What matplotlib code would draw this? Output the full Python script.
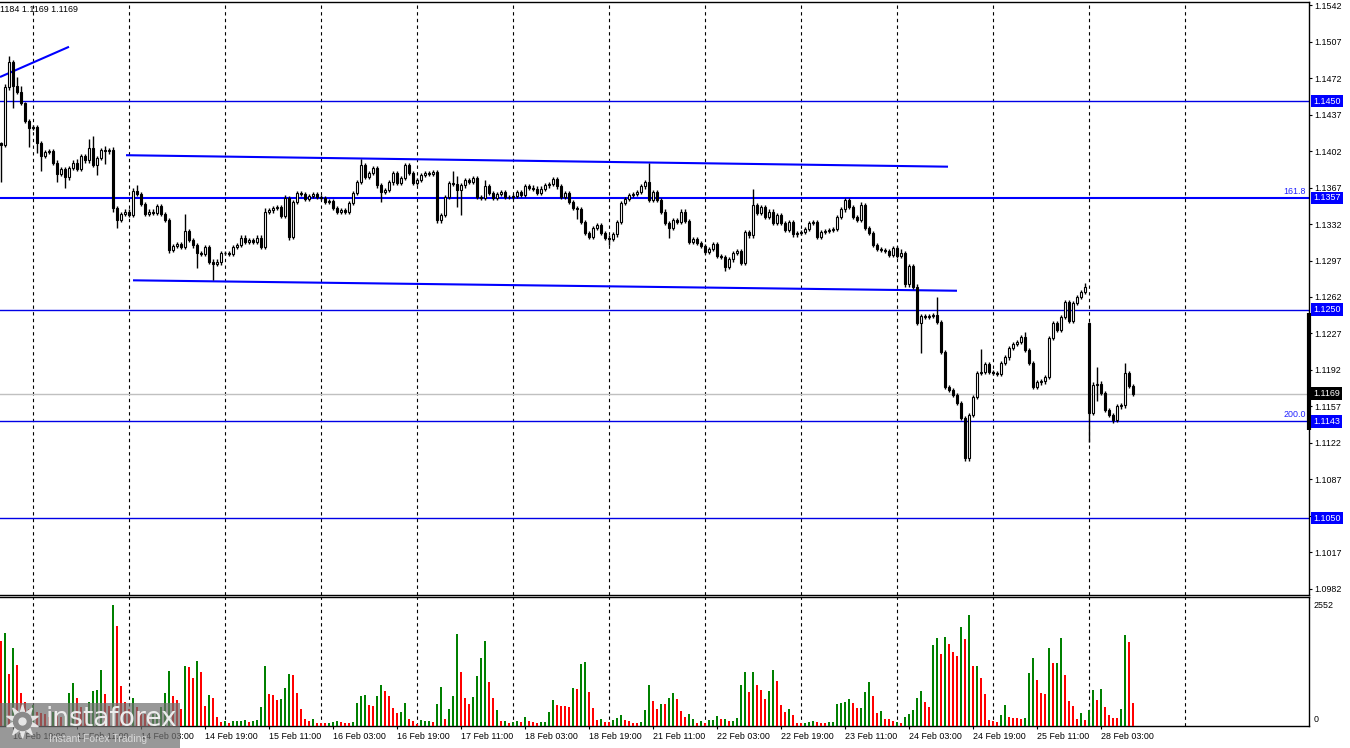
import matplotlib
matplotlib.use("Agg")
import matplotlib.pyplot as plt
import numpy as np
from matplotlib.patches import Rectangle
from matplotlib.lines import Line2D
import matplotlib.transforms as mtrans

# ---------------- data (EURUSD H1) ----------------
first_open = 1.1410
gap_index = 272          # Monday open after weekend gap
gap_open = 1.1237

closes = [
    1.1408, 1.1463, 1.1487, 1.1464, 1.1459, 1.1448, 1.1431, 1.1424, 1.1425, 1.1410,
    1.1397, 1.1401, 1.1402, 1.1391, 1.1380, 1.1385, 1.1377, 1.1386, 1.1391, 1.1385,
    1.1397, 1.1393, 1.1405, 1.1389, 1.1395, 1.1403, 1.1402, 1.1403, 1.1347, 1.1336,
    1.1342, 1.1344, 1.1341, 1.1364, 1.1361, 1.1351, 1.1342, 1.1344, 1.1343, 1.1349,
    1.1342, 1.1336, 1.1307, 1.1311, 1.1313, 1.1310, 1.1325, 1.1317, 1.1312, 1.1304,
    1.1303, 1.1310, 1.1296, 1.1294, 1.1296, 1.1304, 1.1304, 1.1303, 1.1310, 1.1312,
    1.1319, 1.1315, 1.1317, 1.1315, 1.1319, 1.1310, 1.1344, 1.1345, 1.1347, 1.1348,
    1.1340, 1.1357, 1.1320, 1.1353, 1.1362, 1.1361, 1.1356, 1.1359, 1.1361, 1.1358,
    1.1357, 1.1353, 1.1354, 1.1347, 1.1344, 1.1345, 1.1344, 1.1352, 1.1362, 1.1372,
    1.1389, 1.1377, 1.1381, 1.1386, 1.1369, 1.1363, 1.1365, 1.1372, 1.1381, 1.1371,
    1.1376, 1.1389, 1.1381, 1.1371, 1.1374, 1.1379, 1.1381, 1.1380, 1.1382, 1.1336,
    1.1341, 1.1358, 1.1371, 1.1370, 1.1365, 1.1369, 1.1374, 1.1372, 1.1376, 1.1358,
    1.1357, 1.1368, 1.1362, 1.1357, 1.1361, 1.1363, 1.1358, 1.1358, 1.1359, 1.1363,
    1.1360, 1.1368, 1.1367, 1.1366, 1.1362, 1.1366, 1.1369, 1.1370, 1.1375, 1.1368,
    1.1358, 1.1362, 1.1353, 1.1347, 1.1346, 1.1334, 1.1323, 1.1320, 1.1328, 1.1331,
    1.1323, 1.1319, 1.1318, 1.1322, 1.1334, 1.1352, 1.1356, 1.1360, 1.1361, 1.1363,
    1.1368, 1.1372, 1.1355, 1.1363, 1.1355, 1.1344, 1.1333, 1.1328, 1.1336, 1.1334,
    1.1344, 1.1335, 1.1315, 1.1318, 1.1314, 1.1311, 1.1305, 1.1308, 1.1313, 1.1301,
    1.1300, 1.1291, 1.1298, 1.1304, 1.1306, 1.1295, 1.1324, 1.1321, 1.1350, 1.1343,
    1.1348, 1.1339, 1.1344, 1.1333, 1.1341, 1.1333, 1.1326, 1.1334, 1.1322, 1.1323,
    1.1324, 1.1327, 1.1333, 1.1334, 1.1320, 1.1324, 1.1325, 1.1326, 1.1327, 1.1339,
    1.1346, 1.1355, 1.1348, 1.1339, 1.1336, 1.1350, 1.1328, 1.1323, 1.1312, 1.1308,
    1.1307, 1.1306, 1.1302, 1.1309, 1.1301, 1.1304, 1.1274, 1.1292, 1.1272, 1.1237,
    1.1244, 1.1243, 1.1244, 1.1245, 1.1238, 1.1209, 1.1176, 1.1173, 1.1168, 1.1160,
    1.1146, 1.1108, 1.1149, 1.1166, 1.1189, 1.1190, 1.1198, 1.1190, 1.1189, 1.1188,
    1.1199, 1.1204, 1.1213, 1.1217, 1.1219, 1.1224, 1.1211, 1.1199, 1.1176, 1.1180,
    1.1181, 1.1185, 1.1223, 1.1237, 1.1230, 1.1243, 1.1257, 1.1239, 1.1256, 1.1262,
    1.1267, 1.1272, 1.1151, 1.1178, 1.1179, 1.1170, 1.1154, 1.1149, 1.1144, 1.1157,
    1.1158, 1.1189, 1.1177, 1.1169,
]

# wick lengths in pips beyond the body
upper_wick = [
    1, 3, 6, 2, 9, 5, 1, 2, 2, 2,   2, 2, 2, 2, 2, 2, 2, 2, 2, 3,
    2, 2, 9, 11, 2, 2, 4, 2, 3, 2,  2, 2, 2, 3, 5, 2, 2, 2, 2, 2,
    2, 2, 2, 2, 2, 2, 17, 2, 2, 2,  2, 2, 2, 2, 2, 2, 2, 2, 2, 2,
    2, 2, 2, 2, 2, 2, 3, 2, 2, 2,   2, 3, 2, 2, 2, 2, 2, 2, 2, 2,
    2, 2, 2, 2, 2, 2, 2, 2, 2, 2,   5, 2, 2, 2, 2, 2, 2, 2, 2, 2,
    2, 2, 2, 2, 2, 2, 2, 2, 2, 2,   2, 2, 2, 12, 8, 2, 2, 2, 2, 2,
    2, 6, 2, 2, 2, 2, 2, 2, 2, 2,   2, 2, 2, 2, 2, 2, 2, 2, 2, 2,
    2, 2, 2, 2, 2, 2, 2, 2, 2, 2,   2, 2, 2, 2, 2, 2, 2, 2, 2, 2,
    2, 2, 19, 2, 2, 2, 2, 2, 2, 2,  2, 2, 2, 2, 2, 2, 2, 2, 2, 2,
    2, 2, 2, 2, 2, 2, 2, 2, 16, 2,  2, 2, 2, 2, 2, 2, 2, 2, 2, 2,
    2, 2, 2, 2, 2, 2, 2, 2, 2, 2,   2, 2, 2, 2, 2, 3, 2, 2, 2, 2,
    2, 2, 2, 2, 2, 4, 2, 2, 2, 2,   2, 2, 2, 2, 17, 2, 2, 2, 2, 2,
    2, 2, 2, 2, 2, 22, 2, 2, 2, 2,  2, 2, 2, 2, 2, 2, 4, 2, 2, 2,
    2, 2, 2, 2, 2, 2, 2, 2, 2, 2,   2, 3, 1, 2, 16, 2, 2, 2, 2, 2,
    2, 10, 2, 2,
]
lower_wick = [
    36, 2, 2, 21, 2, 2, 2, 18, 2, 10,  14, 2, 2, 2, 8, 2, 10, 3, 2, 2,
    2, 2, 2, 2, 10, 2, 12, 3, 3, 8,    2, 2, 2, 2, 2, 2, 2, 2, 2, 2,
    2, 2, 3, 2, 2, 2, 2, 2, 3, 14,     2, 2, 2, 16, 2, 3, 2, 2, 2, 2,
    2, 2, 2, 2, 2, 2, 2, 2, 2, 2,      2, 2, 3, 2, 2, 2, 2, 2, 2, 2,
    2, 2, 2, 2, 2, 2, 2, 2, 2, 2,      2, 2, 2, 2, 2, 10, 2, 2, 3, 2,
    2, 2, 2, 2, 2, 2, 2, 2, 2, 3,      3, 2, 2, 2, 17, 24, 2, 2, 2, 2,
    2, 2, 2, 2, 2, 2, 2, 2, 2, 2,      2, 2, 2, 2, 2, 2, 2, 2, 2, 2,
    2, 2, 2, 2, 9, 2, 2, 2, 2, 2,      2, 2, 6, 2, 2, 2, 2, 2, 2, 2,
    2, 2, 2, 2, 2, 2, 2, 9, 2, 2,      2, 2, 2, 2, 2, 2, 2, 2, 2, 2,
    2, 4, 2, 2, 2, 2, 2, 2, 2, 2,      2, 2, 2, 2, 2, 2, 2, 2, 2, 2,
    2, 2, 2, 2, 2, 2, 2, 2, 2, 2,      2, 2, 2, 2, 2, 2, 2, 2, 2, 2,
    2, 2, 2, 2, 2, 2, 2, 2, 2, 2,      29, 2, 2, 2, 2, 2, 2, 2, 2, 2,
    2, 3, 3, 2, 2, 2, 2, 2, 2, 2,      2, 2, 2, 2, 2, 2, 2, 2, 2, 2,
    2, 2, 2, 2, 2, 2, 2, 2, 2, 2,      2, 2, 28, 2, 16, 2, 2, 2, 3, 2,
    2, 2, 2, 2,
]

volumes = [
    1793, 1968, 1097, 1652, 1286, 700, 500, 350, 450, 300,
    280, 250, 200, 300, 250, 180, 220, 689, 900, 598,
    400, 300, 506, 738, 759, 1181, 675, 422, 2552, 2109,
    844, 500, 350, 600, 400, 300, 250, 200, 250, 300,
    400, 703, 1160, 633, 548, 358, 1265, 1244, 1012, 1371,
    1139, 422, 647, 590, 190, 84, 98, 70, 98, 98,
    98, 120, 91, 112, 127, 400, 1258, 675, 647, 548,
    569, 801, 1097, 1076, 696, 358, 155, 105, 148, 63,
    63, 63, 63, 84, 98, 84, 70, 63, 84, 485,
    633, 654, 443, 422, 633, 865, 738, 633, 380, 274,
    295, 485, 148, 105, 42, 127, 105, 105, 84, 464,
    823, 148, 358, 633, 1940, 1139, 590, 464, 612, 1055,
    1434, 1793, 928, 590, 337, 105, 105, 63, 84, 105,
    84, 190, 105, 84, 63, 84, 84, 295, 548, 443,
    422, 422, 400, 801, 780, 1308, 1350, 717, 380, 127,
    148, 84, 84, 127, 169, 232, 127, 105, 63, 63,
    84, 337, 865, 527, 358, 464, 464, 590, 696, 569,
    316, 190, 253, 148, 63, 105, 63, 127, 127, 211,
    148, 148, 105, 105, 169, 865, 1139, 717, 1139, 865,
    759, 569, 738, 1181, 949, 443, 295, 358, 232, 63,
    63, 63, 84, 105, 84, 63, 63, 84, 84, 464,
    485, 506, 569, 485, 380, 380, 717, 928, 633, 274,
    316, 148, 148, 105, 84, 63, 190, 253, 337, 590,
    738, 506, 400, 1708, 1856, 1518, 1877, 1729, 1560, 1476,
    2088, 1835, 2341, 1265, 1265, 1012, 675, 127, 105, 84,
    232, 443, 190, 169, 169, 148, 169, 1118, 1434, 970,
    696, 675, 1645, 1329, 1329, 1856, 1076, 527, 422, 148,
    274, 127, 337, 759, 548, 780, 400, 232, 169, 169,
    358, 1919, 1772, 485,
]
# volume tick direction: g = up, r = down
vol_dir = ("rgrgrrrrgr" "rrrgrrgggr" "rrggggrrgr" "rrrgrrrrgg" "gggrrrgrrg"
           "rrgrrrgrgg" "ggrggggrrr" "gggrrrrrgr" "rrgggrrrgg" "ggrrggrrrr"
           "ggrrrgggrg" "grgggrrrgg" "ggrrgrgrgg" "rgrrrggggr" "rrrgrggrrr"
           "grrgggrrrr" "gggrrgrggr" "rrggrgrggg" "rgrggggrgr" "rrggrrrgrr"
           "rgggrrrggg" "gggrrgggrr" "grrrgrgggg" "grrggrgrrr" "grgrgrrrrr"
           "ggrrrrgggr" "rrgrggrrrr" "grggrgrrrr" "ggrr")

date_label_idx = [3, 19, 35, 51, 67, 83, 99, 115, 131, 147, 163, 179, 195, 211, 227, 243, 259, 275]
date_labels = ["10 Feb 19:00", "11 Feb 11:00", "14 Feb 03:00", "14 Feb 19:00", "15 Feb 11:00",
               "16 Feb 03:00", "16 Feb 19:00", "17 Feb 11:00", "18 Feb 03:00", "18 Feb 19:00",
               "21 Feb 11:00", "22 Feb 03:00", "22 Feb 19:00", "23 Feb 11:00", "24 Feb 03:00",
               "24 Feb 19:00", "25 Feb 11:00", "28 Feb 03:00"]
grid_idx = [8, 32, 56, 80, 104, 128, 152, 176, 200, 224, 248, 272, 296]

price_ticks = [1.1542, 1.1507, 1.1472, 1.1437, 1.1402, 1.1367, 1.1332, 1.1297, 1.1262,
               1.1227, 1.1192, 1.1157, 1.1122, 1.1087, 1.1052, 1.1017, 1.0982]
thin_levels = [1.1450, 1.1250, 1.1143, 1.1050]
fibo_level = 1.1357
last_price = 1.1169
vol_max_label = 2552

channel_top_x = [31.25, 236.75]
channel_top_y = [1.1398, 1.1387]
channel_bot_x = [33.0, 239.0]
channel_bot_y = [1.1278, 1.1268]
trend_x = [-0.25, 17.0]
trend_y = [1.1473, 1.1502]
bar_range = [1.1247, 1.1134]

assert len(closes) == len(upper_wick) == len(lower_wick) == len(volumes) == len(vol_dir) == 284

# ---------------- figure ----------------
W, H = 1350, 748
fig = plt.figure(figsize=(13.5, 7.48), dpi=100)
fig.patch.set_facecolor('white')
FONT = 'Liberation Sans'
FS = 6.4
BLUE = '#0000FF'
LBLUE = '#0000E6'


def fx(x):
    return x / W


def fy(y):
    return 1 - y / H


ax = fig.add_axes([0, fy(595), fx(1309), fy(2) - fy(595)])
axv = fig.add_axes([0, fy(726), fx(1309), fy(597) - fy(726)], sharex=ax)

idx = np.arange(len(closes))
c = np.array(closes)
o = np.concatenate([[first_open], c[:-1]])
o[gap_index] = gap_open
hi = np.maximum(o, c) + np.array(upper_wick) * 1e-4
lo = np.minimum(o, c) - np.array(lower_wick) * 1e-4

ax.set_xlim(-0.25, 327)
ax.set_ylim(1.097616, 1.154496)

for g in grid_idx:
    ax.axvline(g, color='black', lw=0.8, ls=(0, (3, 3)), zorder=1)
    axv.axvline(g, color='black', lw=0.8, ls=(0, (3, 3)), zorder=1)

for lv in thin_levels:
    ax.axhline(lv, color=LBLUE, lw=1.0, zorder=2)
ax.axhline(fibo_level, color=BLUE, lw=1.5, zorder=2)
ax.axhline(last_price, color='#C0C0C0', lw=1.0, zorder=1.5)

ax.plot(channel_top_x, channel_top_y, color=BLUE, lw=1.5, zorder=2, solid_capstyle='butt')
ax.plot(channel_bot_x, channel_bot_y, color=BLUE, lw=1.5, zorder=2, solid_capstyle='butt')
ax.plot(trend_x, trend_y, color=BLUE, lw=1.5, zorder=2, solid_capstyle='butt')

bull = c > o
ax.vlines(idx, lo, hi, color='black', lw=1.0, zorder=3)
ax.bar(idx, c - o, bottom=o, width=0.55,
       color=np.where(bull, 'white', 'black'), edgecolor='black', linewidth=0.8, zorder=4)

# price axis
ax.yaxis.tick_right()
ax.set_yticks(price_ticks)
ax.set_yticklabels([f"{p:.4f}" for p in price_ticks], fontfamily=FONT)
ax.tick_params(axis='y', labelsize=FS, length=2.5, pad=1.0, width=0.8)
ax.tick_params(axis='x', bottom=False, labelbottom=False)
ax.spines['left'].set_visible(False)
for s in ['top', 'right', 'bottom']:
    ax.spines[s].set_color('black')
    ax.spines[s].set_linewidth(1.0)

bt = mtrans.blended_transform_factory(ax.transAxes, ax.transData)
for lv in thin_levels + [fibo_level]:
    ax.annotate(f"{lv:.4f}", xy=(1, lv), xycoords=bt, xytext=(3, 0), textcoords='offset points',
                ha='left', va='center', color='white', fontsize=FS, fontfamily=FONT,
                bbox=dict(boxstyle='square,pad=0.22', fc=BLUE, ec='none'),
                zorder=10, annotation_clip=False)
ax.annotate(f"{last_price:.4f}", xy=(1, last_price), xycoords=bt, xytext=(3, 0),
            textcoords='offset points', ha='left', va='center', color='white', fontsize=FS,
            fontfamily=FONT, bbox=dict(boxstyle='square,pad=0.22', fc='black', ec='none'),
            zorder=10, annotation_clip=False)
ax.plot([1, 1], bar_range, transform=bt, color='black', lw=3, clip_on=False,
        solid_capstyle='butt', zorder=9)

ax.annotate("161.8", xy=(1, fibo_level), xycoords=bt, xytext=(-2, 1.5), textcoords='offset points',
            ha='right', va='bottom', color='#2222FF', fontsize=FS, fontfamily=FONT)
ax.annotate("200.0", xy=(1, 1.1143), xycoords=bt, xytext=(-2, 1.5), textcoords='offset points',
            ha='right', va='bottom', color='#2222FF', fontsize=FS, fontfamily=FONT)

# volumes
vcol = ['#008000' if d == 'g' else '#FF0000' for d in vol_dir]
axv.bar(idx, volumes, width=0.7, color=vcol, zorder=3)
axv.set_ylim(0, 2721)
axv.set_yticks([])
axv.spines['left'].set_visible(False)
for s in ['top', 'right', 'bottom']:
    axv.spines[s].set_color('black')
    axv.spines[s].set_linewidth(1.0)
bv = mtrans.blended_transform_factory(axv.transAxes, axv.transData)
axv.annotate(str(vol_max_label), xy=(1, vol_max_label), xycoords=bv, xytext=(3, 0),
             textcoords='offset points', ha='left', va='center', fontsize=FS, fontfamily=FONT,
             annotation_clip=False)
axv.annotate("0", xy=(1, 0), xycoords=bv, xytext=(3, 1.5), textcoords='offset points',
             ha='left', va='bottom', fontsize=FS, fontfamily=FONT, annotation_clip=False)

axv.set_xticks(date_label_idx)
axv.set_xticklabels(date_labels, fontfamily=FONT, ha='left')
axv.tick_params(axis='x', labelsize=FS, length=2.5, pad=1.5, width=0.8)
ax.tick_params(axis='x', bottom=False, labelbottom=False)
ax.set_xlim(-0.25, 327)

# top-left info text
fig.text(fx(0), fy(10), "1184 1.1169 1.1169", fontsize=FS, fontfamily=FONT, va='center', ha='left')

# watermark logo (semi-transparent, over the first date labels as in the source)
fig.add_artist(Rectangle((0, fy(748)), fx(180), fy(703) - fy(748), transform=fig.transFigure,
                         facecolor='#707070', alpha=0.72, edgecolor='none', zorder=20))
fig.add_artist(Line2D([fx(22)], [fy(721)], marker=(10, 1, 0), ms=24, color='#e6e6e6',
                      transform=fig.transFigure, zorder=21))
fig.add_artist(Line2D([fx(22)], [fy(721)], marker='o', ms=13, color='#8a8a8a',
                      transform=fig.transFigure, zorder=22))
fig.add_artist(Line2D([fx(22)], [fy(721)], marker='o', ms=5, color='#e6e6e6',
                      transform=fig.transFigure, zorder=23))
fig.text(fx(45), fy(719), "instaforex", fontsize=19, color='#ececec', fontfamily='DejaVu Sans',
         va='center', ha='left', zorder=24)
fig.text(fx(49), fy(739), "Instant Forex Trading", fontsize=7.5, color='#d8d8d8',
         fontfamily=FONT, va='center', ha='left', zorder=24)

fig.savefig("out.png", dpi=100, facecolor='white')
